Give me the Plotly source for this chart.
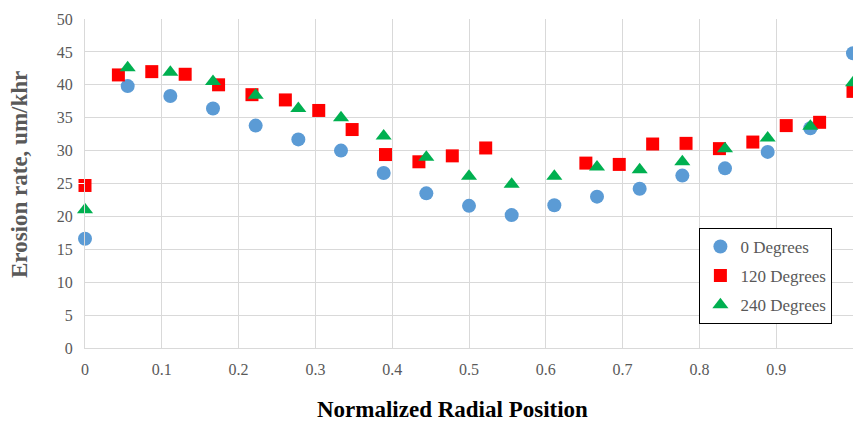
import plotly.graph_objects as go

# Radial measurement positions (normalized) for each orientation
x_0deg = [0, 1/18, 2/18, 3/18, 4/18, 5/18, 6/18, 7/18, 8/18, 9/18,
          10/18, 11/18, 12/18, 13/18, 14/18, 15/18, 16/18, 17/18, 1.0]
y_0deg = [16.6, 39.8, 38.3, 36.4, 33.8, 31.7, 30.0, 26.6, 23.5, 21.6,
          20.2, 21.7, 23.0, 24.2, 26.2, 27.3, 29.8, 33.4, 44.8]

x_120deg = [0, 1/23, 2/23, 3/23, 4/23, 5/23, 6/23, 7/23, 8/23, 9/23,
            10/23, 11/23, 12/23, 15/23, 16/23, 17/23, 18/23, 19/23,
            20/23, 21/23, 22/23, 1.0]
y_120deg = [24.7, 41.5, 42.0, 41.6, 40.0, 38.5, 37.7, 36.1, 33.2, 29.4,
            28.3, 29.2, 30.4, 28.1, 27.9, 31.0, 31.1, 30.3,
            31.3, 33.8, 34.3, 39.0]

x_240deg = [0, 1/18, 2/18, 3/18, 4/18, 5/18, 6/18, 7/18, 8/18, 9/18,
            10/18, 11/18, 12/18, 13/18, 14/18, 15/18, 16/18, 17/18, 1.0]
y_240deg = [21.0, 42.6, 41.9, 40.5, 38.4, 36.4, 35.0, 32.2, 29.0, 26.1,
            24.9, 26.1, 27.5, 27.1, 28.3, 30.3, 31.9, 33.7, 40.3]

x_ticks = [0, 0.1, 0.2, 0.3, 0.4, 0.5, 0.6, 0.7, 0.8, 0.9]
x_tick_text = ["0", "0.1", "0.2", "0.3", "0.4", "0.5", "0.6", "0.7", "0.8", "0.9"]

FONT = "Times New Roman, Liberation Serif, serif"
GREY = "#595959"
GRID = "#D9D9D9"

fig = go.Figure()
fig.add_trace(go.Scatter(
    x=x_0deg, y=y_0deg, mode="markers", name="0 Degrees", legendgroup="a",
    cliponaxis=False,
    marker=dict(symbol="circle", size=14, color="#5B9BD5"),
))
fig.add_trace(go.Scatter(
    x=x_120deg, y=y_120deg, mode="markers", name="120 Degrees", legendgroup="b",
    cliponaxis=False,
    marker=dict(symbol="square", size=13, color="#FF0000"),
))
fig.add_trace(go.Scatter(
    x=x_240deg, y=y_240deg, mode="markers", name="240 Degrees", legendgroup="c",
    cliponaxis=False,
    marker=dict(symbol="triangle-up", size=14, color="#00B050"),
))

fig.update_layout(
    width=853, height=422,
    margin=dict(l=85, r=0, t=19, b=74),
    paper_bgcolor="white", plot_bgcolor="white",
    font=dict(family=FONT, size=16, color=GREY),
    showlegend=True,
    legend=dict(
        x=0.80, y=0.365, xanchor="left", yanchor="top",
        bgcolor="white", bordercolor="black", borderwidth=1,
        font=dict(family=FONT, size=17, color=GREY),
        itemwidth=30, tracegroupgap=4,
    ),
    xaxis=dict(
        range=[0, 1], tickvals=x_ticks, ticktext=x_tick_text,
        showgrid=True, gridcolor=GRID, gridwidth=1,
        showline=True, linecolor=GRID, linewidth=1,
        zeroline=False, ticks="outside", ticklen=7, tickcolor="white",
        tickfont=dict(family=FONT, size=16, color=GREY),
    ),
    yaxis=dict(
        range=[0, 50], dtick=5,
        showgrid=True, gridcolor=GRID, gridwidth=1,
        showline=True, linecolor=GRID, linewidth=1,
        zeroline=False, ticks="outside", ticklen=8, tickcolor="white",
        tickfont=dict(family=FONT, size=16, color=GREY),
    ),
    annotations=[
        dict(text="<b>Normalized Radial Position</b>", xref="paper", yref="paper",
             x=0.479, y=-0.188, xanchor="center", yanchor="middle", showarrow=False,
             font=dict(family=FONT, size=23, color="black")),
        dict(text="<b>Erosion rate, um/khr</b>", xref="paper", yref="paper",
             x=-0.0846, y=0.526, xanchor="center", yanchor="middle", showarrow=False,
             textangle=-90, font=dict(family=FONT, size=23, color=GREY)),
    ],
)

fig.write_html("out.html")
